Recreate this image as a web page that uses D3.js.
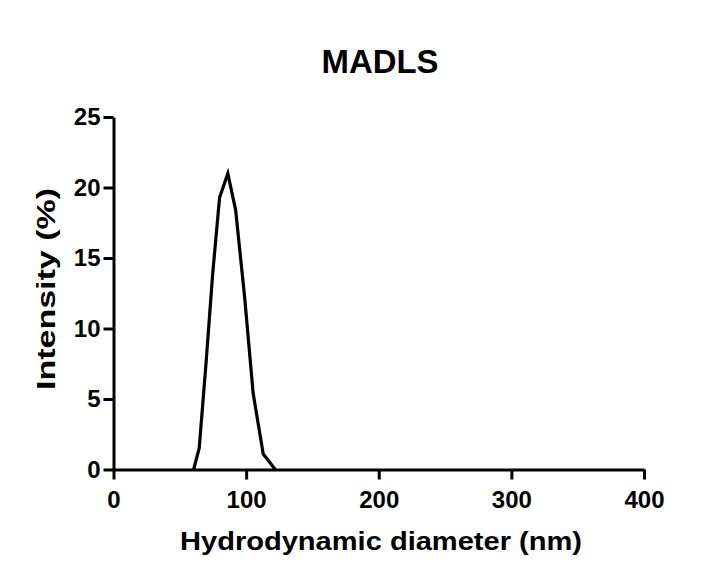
<!DOCTYPE html>
<html>
<head>
<meta charset="utf-8">
<script src="https://cdn.jsdelivr.net/npm/d3@7"></script>
<style>
  html, body { margin: 0; padding: 0; background: #fff; }
  svg { display: block; }
  text { font-family: "Liberation Sans", Arial, sans-serif; font-weight: bold; fill: #000; }
</style>
</head>
<body>
<svg id="chart" width="712" height="583"></svg>
<script>
const title = "MADLS";
const xLabel = "Hydrodynamic diameter (nm)";
const yLabel = "Intensity (%)";
const xTicks = [0, 100, 200, 300, 400];
const yTicks = [0, 5, 10, 15, 20, 25];
const diameter = [60.4, 64.6, 69.5, 74.8, 80.0, 86.2, 92.1, 98.9, 105.3, 112.9, 122.0];
const intensity = [0, 1.5, 7.2, 13.9, 19.3, 21.0, 18.4, 12.2, 5.4, 1.1, 0];

const svg = d3.select("#chart");
const x = d3.scaleLinear().domain([0, 400]).range([113.5, 644]);
const y = d3.scaleLinear().domain([0, 25]).range([469.5, 117]);

// x axis
const xAxis = svg.append("g").attr("transform", `translate(0,${y(0)})`)
  .call(d3.axisBottom(x).tickValues(xTicks).tickSize(10).tickPadding(11).tickSizeOuter(0));
xAxis.select(".domain").attr("stroke", "#000").attr("stroke-width", 3);
xAxis.selectAll(".tick line").attr("stroke", "#000").attr("stroke-width", 3);
xAxis.selectAll(".tick text").style("font-size", "24px").style("font-family", '"Liberation Sans", Arial, sans-serif').style("font-weight", "bold");

// y axis
const yAxis = svg.append("g").attr("transform", `translate(${x(0)},0)`)
  .call(d3.axisLeft(y).tickValues(yTicks).tickSize(10).tickPadding(3).tickSizeOuter(0));
yAxis.select(".domain").attr("stroke", "#000").attr("stroke-width", 3);
yAxis.selectAll(".tick line").attr("stroke", "#000").attr("stroke-width", 3);
yAxis.selectAll(".tick text").style("font-size", "24px").style("font-family", '"Liberation Sans", Arial, sans-serif').style("font-weight", "bold");

// data line
const pts = diameter.map((d, i) => [d, intensity[i]]);
svg.append("path").datum(pts)
  .attr("fill", "none").attr("stroke", "#000").attr("stroke-width", 3.2)
  .attr("stroke-linejoin", "miter")
  .attr("d", d3.line().x(d => x(d[0])).y(d => y(d[1])));

// title
svg.append("text").attr("x", 380).attr("y", 72.5).attr("text-anchor", "middle")
  .style("font-size", "34px").attr("textLength", 117).attr("lengthAdjust", "spacingAndGlyphs")
  .text(title);

// x label
svg.append("text").attr("x", 381).attr("y", 549.5).attr("text-anchor", "middle")
  .style("font-size", "25px").attr("textLength", 402).attr("lengthAdjust", "spacingAndGlyphs")
  .text(xLabel);

// y label
svg.append("text").attr("transform", "translate(54.5,289) rotate(-90)").attr("text-anchor", "middle")
  .style("font-size", "25px").attr("textLength", 202).attr("lengthAdjust", "spacingAndGlyphs")
  .text(yLabel);
</script>
</body>
</html>
